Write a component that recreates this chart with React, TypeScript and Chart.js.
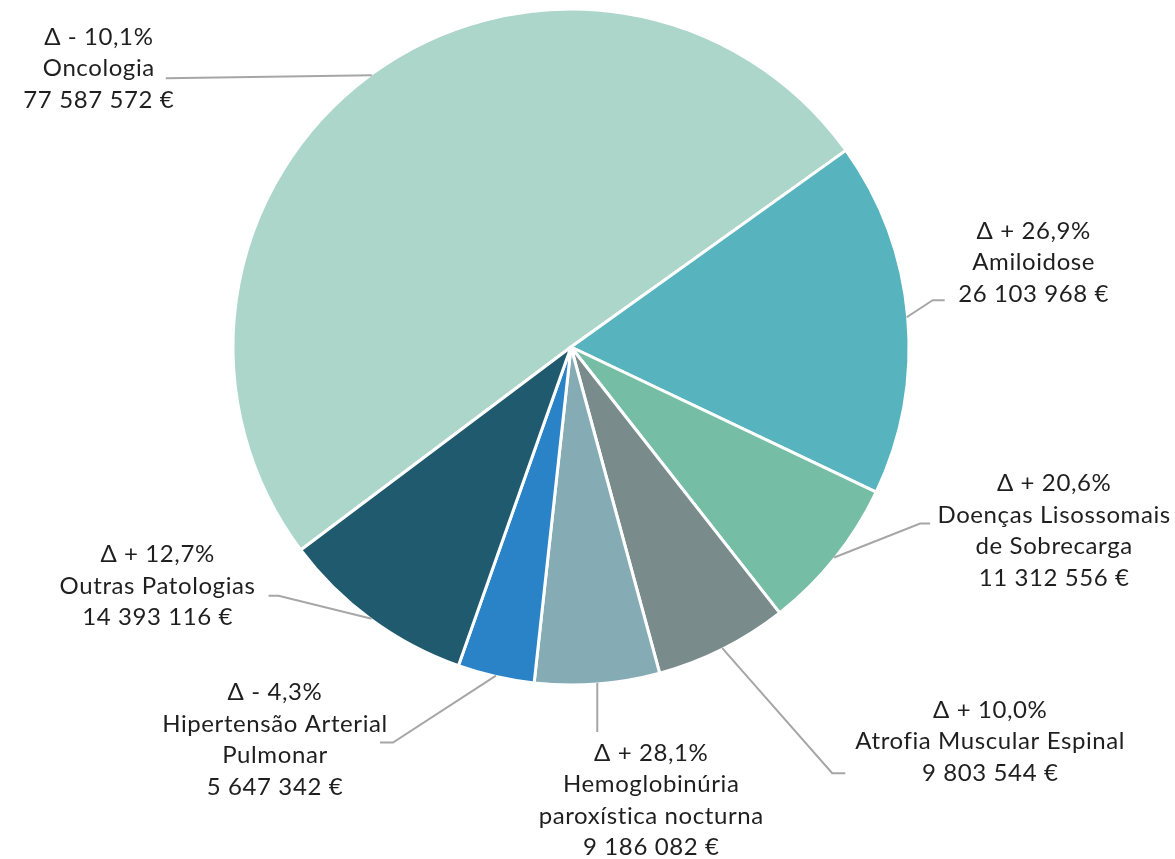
import React, { useEffect, useRef } from "react";
import { Chart, registerables } from "chart.js";

Chart.register(...registerables);

const categories = [
  "Oncologia",
  "Amiloidose",
  "Doenças Lisossomais de Sobrecarga",
  "Atrofia Muscular Espinal",
  "Hemoglobinúria paroxística nocturna",
  "Hipertensão Arterial Pulmonar",
  "Outras Patologias",
];
const values = [77587572, 26103968, 11312556, 9803544, 9186082, 5647342, 14393116];
const deltas = ["Δ - 10,1%", "Δ + 26,9%", "Δ + 20,6%", "Δ + 10,0%", "Δ + 28,1%", "Δ - 4,3%", "Δ + 12,7%"];
const nameLines = [
  ["Oncologia"],
  ["Amiloidose"],
  ["Doenças Lisossomais", "de Sobrecarga"],
  ["Atrofia Muscular Espinal"],
  ["Hemoglobinúria", "paroxística nocturna"],
  ["Hipertensão Arterial", "Pulmonar"],
  ["Outras Patologias"],
];
const colors = ["#ACD6CA", "#57B4BF", "#76BDA6", "#7A8B8B", "#85ACB5", "#2A83C7", "#205A6E"];

// label placement relative to slice anchor: elbow (dx,dy), horizontal tail, text centre x, first line y
const labelLayout = [
  { ex: -206, ey: 3, tail: 0, tx: -273, ty: -38 },
  { ex: 26, ey: -17, tail: 12, tx: 127, ty: -86 },
  { ex: 86, ey: -34, tail: 10, tx: 220, ty: -74 },
  { ex: 110, ey: 125, tail: 13, tx: 268, ty: 62 },
  { ex: 0, ey: 49, tail: 0, tx: 54, ty: 70 },
  { ex: -103, ey: 67, tail: -13, tx: -221, ty: 17 },
  { ex: -93, ey: -23, tail: -10, tx: -214, ty: -64 },
];

const formatEuro = (v: number) =>
  String(v).replace(/\B(?=(\d{3})+(?!\d))/g, " ") + " €";

const labelPlugin = {
  id: "outerLabels",
  afterDatasetsDraw(chart: any) {
    const ctx = chart.ctx;
    const meta = chart.getDatasetMeta(0);
    ctx.save();
    meta.data.forEach((arc: any, i: number) => {
      const { x, y, startAngle, endAngle, outerRadius } = arc.getProps(
        ["x", "y", "startAngle", "endAngle", "outerRadius"],
        true
      );
      const mid = (startAngle + endAngle) / 2;
      const ax = x + Math.cos(mid) * (outerRadius - 1);
      const ay = y + Math.sin(mid) * (outerRadius - 1);
      const L = labelLayout[i];
      ctx.strokeStyle = "#A6A6A6";
      ctx.lineWidth = 2;
      ctx.beginPath();
      ctx.moveTo(ax, ay);
      ctx.lineTo(ax + L.ex, ay + L.ey);
      if (L.tail) ctx.lineTo(ax + L.ex + L.tail, ay + L.ey);
      ctx.stroke();

      const lines = [deltas[i], ...nameLines[i], formatEuro(values[i])];
      ctx.fillStyle = "#1F1F1F";
      ctx.font = "24px Lato, 'DejaVu Sans', sans-serif";
      try {
        (ctx as any).letterSpacing = "0.6px";
      } catch (e) {}
      ctx.textAlign = "center";
      ctx.textBaseline = "middle";
      lines.forEach((t, k) => {
        ctx.fillText(t, ax + L.tx, ay + L.ty + k * 31.5);
      });
    });
    ctx.restore();
  },
};

export default function App() {
  const ref = useRef<HTMLCanvasElement>(null);
  useEffect(() => {
    document.body.style.margin = "0";
    const chart = new Chart(ref.current as HTMLCanvasElement, {
      type: "pie",
      data: {
        labels: categories,
        datasets: [
          {
            data: values,
            backgroundColor: colors,
            borderColor: "#FFFFFF",
            borderWidth: 3,
            hoverOffset: 0,
          },
        ],
      },
      options: {
        animation: false,
        responsive: false,
        rotation: 233.1,
        layout: { padding: { left: 231.5, top: 7.5, right: 264.5, bottom: 172.5 } },
        plugins: {
          legend: { display: false },
          tooltip: { enabled: false },
        },
      },
      plugins: [labelPlugin],
    });
    return () => chart.destroy();
  }, []);
  return (
    <div style={{ width: 1175, height: 859, background: "#FFFFFF" }}>
      <canvas ref={ref} width={1175} height={859} />
    </div>
  );
}
